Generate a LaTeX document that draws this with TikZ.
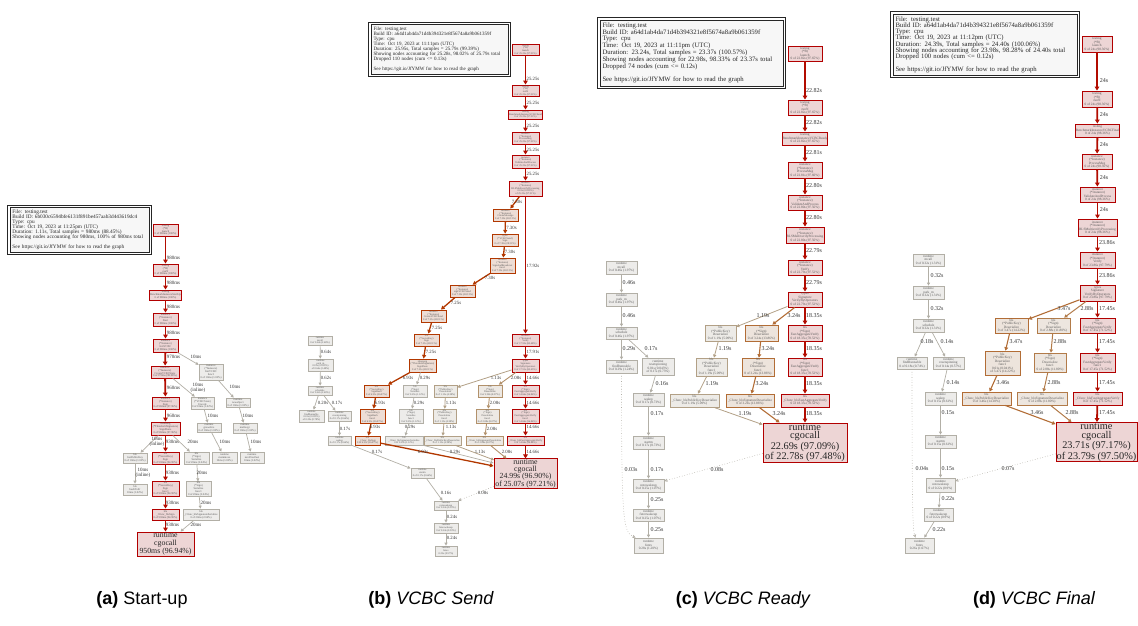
\documentclass[tikz,border=0pt]{standalone}
\usepackage{fontspec}
\setmainfont{Liberation Serif}
\newfontfamily\capfont{Liberation Sans}
\usetikzlibrary{arrows.meta,calc}
\definecolor{redF}{RGB}{237,213,213}
\definecolor{redD}{RGB}{178,0,0}
\definecolor{redE}{RGB}{178,12,0}
\definecolor{orF}{RGB}{237,221,213}
\definecolor{orD}{RGB}{178,56,0}
\definecolor{brF}{RGB}{237,228,220}
\definecolor{brD}{RGB}{178,109,54}
\definecolor{tnF}{RGB}{237,230,223}
\definecolor{tnD}{RGB}{178,123,73}
\definecolor{tbF}{RGB}{237,233,228}
\definecolor{tbD}{RGB}{178,145,107}
\definecolor{ltF}{RGB}{237,235,231}
\definecolor{ltD}{RGB}{178,160,134}
\definecolor{grF}{RGB}{237,236,234}
\definecolor{grD}{RGB}{178,175,166}
\definecolor{lgF}{RGB}{247,247,247}
\def\nfnt{\fontsize{3}{3.1}\selectfont}
\def\lfnt{\fontsize{5}{5}\selectfont}
\def\legfnt{\fontsize{5}{5}\selectfont}
\tikzset{
 box/.style={draw, rectangle, inner sep=0.2pt, align=center, font=\nfnt, text=black!65},
 nR/.style={box, fill=redF, draw=redD, line width=0.9pt},
 nO/.style={box, fill=orF, draw=orD, line width=0.85pt},
 nB/.style={box, fill=brF, draw=brD, line width=0.8pt},
 nT/.style={box, fill=tnF, draw=tnD, line width=0.75pt},
 nTb/.style={box, fill=tbF, draw=tbD, line width=0.75pt},
 nL/.style={box, fill=ltF, draw=ltD, line width=0.7pt},
 nG/.style={box, fill=grF, draw=grD, line width=0.7pt},
 lbl/.style={font=\lfnt, inner sep=0pt, align=center, text=black!80},
 eR/.style={draw=redE, line width=1.8pt, -{Triangle[length=4pt,width=4.6pt]}},
 eO/.style={draw=orD, line width=1.3pt, -{Triangle[length=3.6pt,width=4pt]}},
 eB/.style={draw=brD, line width=1.1pt, -{Triangle[length=3.4pt,width=3.8pt]}},
 eT/.style={draw=tnD, line width=1pt, -{Triangle[length=3.2pt,width=3.5pt]}},
 eTb/.style={draw=tbD, line width=0.9pt, -{Triangle[length=3.2pt,width=3.4pt]}},
 eL/.style={draw=ltD, line width=0.8pt, -{Triangle[length=3pt,width=3.2pt]}},
 eG/.style={draw=grD, line width=0.7pt, -{Triangle[length=3pt,width=3pt]}},
 eD/.style={draw=grD, line width=0.6pt, dotted, -{Triangle[open,length=3pt,width=3pt]}},
 legend/.style={draw=black!85, line width=0.6pt, fill=lgF, align=left, inner sep=2.5pt, font=\legfnt, text=black!85},
 captxt/.style={font=\capfont\fontsize{18}{20}\selectfont, inner sep=0pt},
}
\newcommand\nd[6]{\node[#1,minimum width=#4pt,minimum height=#5pt] (#2) at (#3) {#6};}
\newcommand\ed[5]{\draw[#1] (#2) -- (#3) node[lbl] at (#4) {#5};}
\newcommand\legbox[1]{\draw[line width=1.3pt, draw=black!85] ($(#1.north west)+(-2,-2)$) rectangle ($(#1.south east)+(2,2)$);}
\begin{document}
\begin{tikzpicture}[x=1pt,y=-1pt]
\useasboundingbox (0,0) rectangle (1138,626);

% ================= (a) =================
\begin{scope}
\def\nfnt{\fontsize{2.8}{2.9}\selectfont}
\def\lfnt{\fontsize{5}{5}\selectfont}
\def\legfnt{\fontsize{5.3}{5}\selectfont}
\node[legend, minimum width=139pt, minimum height=42pt, text width=134pt] (La) at (79.5,230) {File: testing.test\\Build ID: 6b030c6594bfe6131f891be457aab3d443619dc4\\Type: cpu\\Time: Oct 19, 2023 at 11:25pm (UTC)\\Duration: 1.11s, Total samples = 980ms (88.45\%)\\Showing nodes accounting for 980ms, 100\% of 980ms total\\[5pt]See https://git.io/JfYMW for how to read the graph};
\legbox{La}
\nd{nR}{a1}{165.5,230}{25}{12}{testing\\(*B)\\launch\\0 of 980ms (100\%)}
\nd{nR}{a2}{165.5,270}{25}{12}{testing\\(*B)\\runN\\0 of 980ms (100\%)}
\nd{nR}{a3}{165.5,295}{27}{10}{testing\\BenchmarkInstanceStartUp\\0 of 980ms (100\%)}
\nd{nR}{a4}{165.5,319.5}{25}{13}{instance\\(*Instance)\\Start\\0 of 980ms (100\%)}
\nd{nR}{a5}{165.5,345.5}{25}{13}{instance\\(*Instance)\\InitVCBC\\0 of 980ms (100\%)}
\nd{nR}{a6}{165,372}{28}{12}{instance\\(*Instance)\\CreateVCBCState\\0 of 970ms (98.98\%)}
\nd{nG}{a7}{211,372}{24}{16}{instance\\(*Instance)\\InitVCBC\\func1\\0 of 10ms (1.02\%)}
\nd{nR}{a8}{165.5,403}{27}{12}{instance\\(*Instance)\\Sign\\0 of 960ms (97.96\%)}
\nd{nG}{a9}{202.5,403}{23}{12}{instance\\(*VCBCState)\\Encode\\0 of 10ms (1.02\%)}
\nd{nG}{a10}{238,402.5}{24}{9}{runtime\\newobject\\0 of 10ms (1.02\%)}
\nd{nR}{a11}{165.5,428.5}{29}{13}{tsharesig\\(*ThresholdSignature)\\SignShare\\0 of 960ms (97.96\%)}
\nd{nG}{a12}{209,427.5}{24}{9}{runtime\\growslice\\0 of 10ms (1.02\%)}
\nd{nG}{a13}{245,428}{24}{10}{runtime\\mallocgc\\0 of 10ms (1.02\%)}
\nd{nG}{a14}{135,458}{24}{10}{bls\\GetPublicKey\\0 of 10ms (1.02\%)}
\nd{nR}{a15}{165.5,458}{27}{12}{bls\\(*SecretKey)\\Sign\\0 of 930ms (94.90\%)}
\nd{nG}{a16}{196.5,458}{25}{12}{bls\\(*Sign)\\Serialize\\0 of 20ms (2.04\%)}
\nd{nG}{a17}{224.5,457.5}{25}{11}{runtime\\memmove\\10ms (1.02\%)}
\nd{nG}{a18}{252,457.5}{24}{11}{runtime\\nextFreeFast\\10ms (1.02\%)}
\nd{nG}{a19}{135,489.5}{24}{11}{bls\\hashToFr\\10ms (1.02\%)}
\nd{nR}{a20}{165.5,488.5}{27}{15}{bls\\(*SecretKey)\\Sign\\func1\\0 of 930ms (94.90\%)}
\nd{nG}{a21}{198.5,489}{25}{14}{bls\\(*Sign)\\Serialize\\func1\\0 of 20ms (2.04\%)}
\nd{nR}{a22}{165.5,514.5}{27}{11}{bls\\\_Cfunc\_blsSign\\0 of 930ms (94.90\%)}
\nd{nG}{a23}{201,514.5}{36}{11}{bls\\\_Cfunc\_blsSignatureSerialize\\0 of 20ms (2.04\%)}
\node[nR, minimum width=57pt, minimum height=24pt, text=black!85, font=\fontsize{7.8}{8}\selectfont] (a24) at (165.5,544) {runtime\\cgocall\\950ms (96.94\%)};
\ed{eR}{a1}{a2}{173.5,258}{980ms}
\ed{eR}{a2}{a3}{173.5,283}{980ms}
\ed{eR}{a3}{a4}{173.5,307}{980ms}
\ed{eR}{a4}{a5}{173.5,333}{980ms}
\ed{eR}{a5}{a6}{173.5,357}{970ms}
\ed{eG}{a5}{a7}{196,357}{10ms}
\ed{eR}{a6}{a8}{173.5,388}{960ms}
\ed{eG}{a6}{a9}{198,388}{10ms\\(inline)}
\ed{eG}{a7}{a10}{235,387}{10ms}
\ed{eR}{a8}{a11}{173.5,416}{960ms}
\ed{eG}{a9}{a12}{213,416}{10ms}
\ed{eG}{a10}{a13}{248,416}{10ms}
\ed{eG}{a11}{a14}{157,442}{10ms\\(inline)}
\ed{eR}{a11}{a15}{172.5,442}{930ms}
\ed{eG}{a11}{a16}{193,442}{20ms}
\ed{eG}{a12}{a17}{225,442}{10ms}
\ed{eG}{a13}{a18}{256,442}{10ms}
\ed{eG}{a14}{a19}{143,473}{10ms\\(inline)}
\ed{eR}{a15}{a20}{172.5,473}{930ms}
\ed{eG}{a16}{a21}{202,473}{20ms}
\ed{eR}{a20}{a22}{172.5,503}{930ms}
\ed{eG}{a21}{a23}{206,503}{20ms}
\ed{eR}{a22}{a24}{172.5,525}{930ms}
\ed{eG}{a23}{a24}{196,525}{20ms}
\end{scope}

% ================= (b) =================
\begin{scope}
\def\nfnt{\fontsize{2.6}{2.7}\selectfont}
\def\lfnt{\fontsize{4.8}{4.8}\selectfont}
\def\legfnt{\fontsize{5}{5}\selectfont}
\node[legend, minimum width=137pt, minimum height=45pt, text width=132pt] (Lb) at (439.5,49.5) {File: testing.test\\Build ID: a64d1ab4da71d4b394321e8f5674a8a9b061359f\\Type: cpu\\Time: Oct 19, 2023 at 11:11pm (UTC)\\Duration: 25.95s, Total samples = 25.79s (99.39\%)\\Showing nodes accounting for 25.28s, 98.02\% of 25.79s total\\Dropped 110 nodes (cum <= 0.13s)\\[5pt]See https://git.io/JfYMW for how to read the graph};
\legbox{Lb}
\nd{nR}{b1}{525.5,49.5}{27}{11}{testing\\(*B)\\launch\\0 of 25.25s (97.91\%)}
\nd{nR}{b2}{525.5,90.5}{27}{11}{testing\\(*B)\\runN\\0 of 25.25s (97.91\%)}
\nd{nR}{b3}{525.5,114.5}{33}{9}{testing\\BenchmarkInstanceVCBCSend\\0 of 25.25s (97.91\%)}
\nd{nR}{b4}{525.5,138}{27}{12}{instance\\(*Instance)\\ProcessMsg\\0 of 25.25s (97.91\%)}
\nd{nR}{b5}{525.5,161.5}{27}{13}{instance\\(*Instance)\\ValidateAndProcess\\0 of 25.25s (97.91\%)}
\nd{nR}{b6}{525.5,188.5}{33}{15}{instance\\(*Instance)\\BLSMultiverifyProcessing\\0.01s (0.039\%)\\of 25.25s (97.91\%)}
\nd{nO}{b7}{505.5,215}{25}{12}{instance\\(*Instance)\\CreateMessage\\0 of 7.30s (28.31\%)}
\nd{nO}{b8}{505,240}{26}{12}{types\\(*VCBCSend)\\Sign\\0 of 7.30s (28.31\%)}
\nd{nO}{b9}{502.5,265.5}{25}{15}{instance\\(*Instance)\\SignAndBroadcast\\func1\\0 of 7.30s (28.31\%)}
\nd{nO}{b10}{462.5,291}{25}{12}{instance\\(*Instance)\\signVCBCSend\\0 of 7.30s (28.31\%)}
\nd{nO}{b11}{433.5,316}{25}{12}{instance\\(*Instance)\\CreateVCBCSend\\0 of 7.25s (28.11\%)}
\nd{nO}{b12}{426.5,340}{25}{12}{bls\\(*SecretKey)\\Sign\\0 of 7.25s (28.11\%)}
\nd{nO}{b13}{422.5,365.5}{27}{13}{tsharesig\\(*ThresholdSignature)\\SignShare\\0 of 7.25s (28.11\%)}
\nd{nR}{b14}{525.5,340}{27}{12}{instance\\(*Instance)\\Verify\\0 of 17.92s (69.48\%)}
\nd{nR}{b15}{525.5,365.5}{27}{13}{types\\Signature\\VerifyByOperators\\0 of 17.91s (69.45\%)}
\nd{nO}{b16}{376.5,391}{25}{12}{bls\\(*SecretKey)\\SignHash\\0 of 6.93s (26.87\%)}
\nd{nG}{b17}{415,391}{24}{12}{bls\\(*Sign)\\Serialize\\0 of 0.29s (1.12\%)}
\nd{nL}{b18}{445.5,391}{23}{12}{bls\\(*PublicKey)\\Deserialize\\0 of 1.13s (4.38\%)}
\nd{nTb}{b19}{490,391}{24}{12}{bls\\(*Sign)\\Deserialize\\0 of 2.08s (8.07\%)}
\nd{nR}{b20}{525.5,391}{27}{12}{bls\\(*Sign)\\FastAggregateVerify\\0 of 14.66s (56.84\%)}
\nd{nO}{b21}{372.5,416}{25}{14}{bls\\(*SecretKey)\\SignHash\\func1\\0 of 6.93s (26.87\%)}
\nd{nG}{b22}{411,416}{24}{14}{bls\\(*Sign)\\Serialize\\func1\\0 of 0.29s (1.12\%)}
\nd{nL}{b23}{444.5,416}{23}{14}{bls\\(*PublicKey)\\Deserialize\\func1\\0 of 1.13s (4.38\%)}
\nd{nTb}{b24}{487.5,416}{23}{14}{bls\\(*Sign)\\Deserialize\\func1\\0 of 2.08s (8.07\%)}
\nd{nR}{b25}{525.5,416}{27}{14}{bls\\(*Sign)\\FastAggregateVerify\\func1\\0 of 14.66s (56.84\%)}
\nd{nO}{b26}{367.5,440.5}{25}{9}{bls\\\_Cfunc\_blsSign\\0 of 6.93s (26.87\%)}
\nd{nG}{b27}{404,440.5}{38}{9}{bls\\\_Cfunc\_blsSignatureSerialize\\0 of 0.29s (1.12\%)}
\nd{nL}{b28}{442.5,440.5}{37}{9}{bls\\\_Cfunc\_blsPublicKeyDeserialize\\0 of 1.13s (4.38\%)}
\nd{nTb}{b29}{484.5,440.5}{37}{9}{bls\\\_Cfunc\_blsSignatureDeserialize\\0 of 2.08s (8.07\%)}
\nd{nR}{b30}{525.5,440.5}{37}{9}{bls\\\_Cfunc\_blsFastAggregateVerify\\0 of 14.66s (56.84\%)}
\node[nR, minimum width=63pt, minimum height=29pt, text=black!85, font=\fontsize{7.8}{7.3}\selectfont] (b31) at (525.5,473.5) {runtime\\cgocall\\24.99s (96.90\%)\\of 25.07s (97.21\%)};
\nd{nG}{b32}{320,340.5}{24}{9}{runtime\\mcall\\0 of 0.64s (2.48\%)}
\nd{nG}{b33}{320.5,365}{25}{12}{runtime\\park\_m\\0.01s (0.039\%)\\of 0.64s (2.48\%)}
\nd{nG}{b34}{320,390.5}{24}{9}{runtime\\schedule\\0 of 0.62s (2.40\%)}
\nd{nG}{b35}{311.5,416}{25}{12}{runtime\\findRunnable\\0.01s (0.039\%)\\of 0.20s (0.78\%)}
\nd{nG}{b36}{339.5,416}{23}{10}{runtime\\resetspinning\\0 of 0.17s (0.66\%)}
\nd{nG}{b37}{339.5,440.5}{23}{9}{runtime\\wakep\\0 of 0.17s (0.66\%)}
\nd{nG}{b38}{422.5,473}{23}{10}{runtime\\startm\\0 of 0.17s (0.66\%)}
\nd{nG}{b39}{446,505.5}{24}{9}{runtime\\notewakeup\\0 of 0.24s (0.93\%)}
\nd{nG}{b40}{446,528}{24}{10}{runtime\\futexwakeup\\0 of 0.24s (0.93\%)}
\nd{nG}{b41}{446,551}{22}{10}{runtime\\futex\\0.25s (0.97\%)}
\ed{eR}{b1}{b2}{533,79}{25.25s}
\ed{eR}{b2}{b3}{533,103}{25.25s}
\ed{eR}{b3}{b4}{533,126}{25.25s}
\ed{eR}{b4}{b5}{533,150}{25.25s}
\ed{eR}{b5}{b6}{533,174}{25.25s}
\ed{eO}{b6}{b7}{517,202}{7.30s}
\ed{eO}{b7}{b8}{511.5,228}{7.30s}
\ed{eO}{b8}{b9}{510,252}{7.30s}
\ed{eO}{b9}{b10}{490,278}{7.30s}
\ed{eO}{b10}{b11}{456,303}{7.25s}
\ed{eO}{b11}{b12}{437,328}{7.25s}
\ed{eO}{b12}{b13}{431,352}{7.25s}
\ed{eR}{b6}{b14}{533,266}{17.92s}
\ed{eR}{b14}{b15}{533,352}{17.91s}
\ed{eO}{b13}{b16}{408,378}{6.93s}
\ed{eG}{b13}{b17}{425,378}{0.29s}
\ed{eL}{b15}{b18}{496,378}{1.13s}
\ed{eTb}{b15}{b19}{516,378}{2.08s}
\ed{eR}{b15}{b20}{533,378}{14.66s}
\ed{eO}{b16}{b21}{380,403}{6.93s}
\ed{eG}{b17}{b22}{419,403}{0.29s}
\ed{eL}{b18}{b23}{451,403}{1.13s}
\ed{eTb}{b19}{b24}{495,403}{2.08s}
\ed{eR}{b20}{b25}{533,403}{14.66s}
\ed{eO}{b21}{b26}{375,427}{6.93s}
\ed{eG}{b22}{b27}{410,427}{0.29s}
\ed{eL}{b23}{b28}{451,427}{1.13s}
\ed{eTb}{b24}{b29}{492,429}{2.08s}
\ed{eR}{b25}{b30}{533,427}{14.66s}
\ed{eO}{b26}{$(b31.north west)+(0,7.5)$}{423,452}{6.93s}
\ed{eG}{b27}{$(b31.north west)+(0,4.5)$}{455,452}{0.29s}
\ed{eL}{b28}{$(b31.north west)+(0.5,1.5)$}{480,452}{1.13s}
\ed{eTb}{b29}{$(b31.north west)+(13,0)$}{507,452}{2.08s}
\ed{eR}{b30}{b31}{533,452}{14.66s}
\ed{eG}{b32}{b33}{326,352}{0.64s}
\ed{eG}{b33}{b34}{326,378}{0.62s}
\ed{eG}{b34}{b35}{323,403}{0.20s}
\ed{eG}{b34}{b36}{337,403}{0.17s}
\ed{eG}{b36}{b37}{345,429}{0.17s}
\ed{eG}{b37}{b38}{377,452}{0.17s}
\ed{eG}{b38}{b39}{446,493}{0.16s}
\ed{eD}{$(b31.south west)+(0,-2)$}{b39}{483,493}{0.08s}
\ed{eG}{b39}{b40}{452,517}{0.24s}
\ed{eG}{b40}{b41}{452,538}{0.24s}
\end{scope}

% ================= (c) =================
\begin{scope}
\def\nfnt{\fontsize{3.4}{3.5}\selectfont}
\def\lfnt{\fontsize{6}{6}\selectfont}
\def\legfnt{\fontsize{6.7}{6}\selectfont}
\node[legend, minimum width=183pt, minimum height=60pt, text width=178pt] (Lc) at (691.5,53) {File: testing.test\\Build ID: a64d1ab4da71d4b394321e8f5674a8a9b061359f\\Type: cpu\\Time: Oct 19, 2023 at 11:11pm (UTC)\\Duration: 23.24s, Total samples = 23.37s (100.57\%)\\Showing nodes accounting for 22.98s, 98.33\% of 23.37s total\\Dropped 74 nodes (cum <= 0.12s)\\[6pt]See https://git.io/JfYMW for how to read the graph};
\legbox{Lc}
\nd{nR}{c1}{805,53.5}{34}{15}{testing\\(*B)\\launch\\0 of 22.82s (97.65\%)}
\nd{nR}{c2}{805,107.5}{34}{15}{testing\\(*B)\\runN\\0 of 22.82s (97.65\%)}
\nd{nR}{c3}{805,138.5}{44}{13}{testing\\BenchmarkInstanceVCBCReady\\0 of 22.82s (97.65\%)}
\nd{nR}{c4}{805,170}{34}{16}{instance\\(*Instance)\\ProcessMsg\\0 of 22.81s (97.60\%)}
\nd{nR}{c5}{805,202.5}{34}{15}{instance\\(*Instance)\\ValidateAndProcess\\0 of 22.80s (97.56\%)}
\nd{nR}{c6}{805,235}{38}{16}{instance\\(*Instance)\\BLSMultiverifyProcessing\\0 of 22.80s (97.56\%)}
\nd{nR}{c7}{805,267.5}{34}{15}{instance\\(*Instance)\\Verify\\0 of 22.79s (97.52\%)}
\nd{nR}{c8}{805,299.5}{34}{15}{types\\Signature\\VerifyByOperators\\0 of 22.79s (97.52\%)}
\nd{nL}{c9}{720.5,333}{31}{16}{bls\\(*PublicKey)\\Deserialize\\0 of 1.19s (5.09\%)}
\nd{nB}{c10}{761.5,333}{33}{16}{bls\\(*Sign)\\Deserialize\\0 of 3.24s (13.86\%)}
\nd{nR}{c11}{805,333}{34}{16}{bls\\(*Sign)\\FastAggregateVerify\\0 of 18.35s (78.52\%)}
\nd{nL}{c12}{711.5,367}{31}{18}{bls\\(*PublicKey)\\Deserialize\\func1\\0 of 1.19s (5.09\%)}
\nd{nB}{c13}{758,367}{32}{18}{bls\\(*Sign)\\Deserialize\\func1\\0 of 3.24s (13.86\%)}
\nd{nR}{c14}{805,367}{34}{18}{bls\\(*Sign)\\FastAggregateVerify\\func1\\0 of 18.35s (78.52\%)}
\nd{nL}{c15}{694.5,400.5}{49}{13}{bls\\\_Cfunc\_blsPublicKeyDeserialize\\0 of 1.19s (5.09\%)}
\nd{nB}{c16}{750,400.5}{48}{13}{bls\\\_Cfunc\_blsSignatureDeserialize\\0 of 3.24s (13.86\%)}
\nd{nR}{c17}{805,400.5}{48}{13}{bls\\\_Cfunc\_blsFastAggregateVerify\\0 of 18.35s (78.52\%)}
\node[nR, minimum width=84pt, minimum height=39pt, text=black!85, font=\fontsize{10.3}{8.7}\selectfont] (c18) at (805,442.5) {runtime\\cgocall\\22.69s (97.09\%)\\of 22.78s (97.48\%)};
\nd{nG}{c19}{621.5,267.5}{31}{13}{runtime\\mcall\\0 of 0.46s (1.97\%)}
\nd{nG}{c20}{621.5,299.5}{31}{13}{runtime\\park\_m\\0 of 0.46s (1.97\%)}
\nd{nG}{c21}{621.5,333}{31}{12}{runtime\\schedule\\0 of 0.46s (1.97\%)}
\nd{nG}{c22}{621.5,366.5}{31}{13}{runtime\\findRunnable\\0 of 0.29s (1.24\%)}
\nd{nG}{c23}{658,366.5}{32}{17}{runtime\\resetspinning\\0.01s (0.043\%)\\of 0.17s (0.73\%)}
\nd{nG}{c24}{648.5,399.5}{31}{13}{runtime\\wakep\\0 of 0.17s (0.73\%)}
\nd{nG}{c25}{648.5,442.5}{31}{13}{runtime\\startm\\0 of 0.17s (0.73\%)}
\nd{nG}{c26}{648.5,485.5}{31}{13}{runtime\\notewakeup\\0 of 0.25s (1.07\%)}
\nd{nG}{c27}{648.5,515}{31}{12}{runtime\\futexwakeup\\0 of 0.25s (1.07\%)}
\nd{nG}{c28}{648.5,545.5}{29}{15}{runtime\\futex\\0.28s (1.20\%)}
\ed{eR}{c1}{c2}{814,91}{22.82s}
\ed{eR}{c2}{c3}{814,123}{22.82s}
\ed{eR}{c3}{c4}{814,153}{22.81s}
\ed{eR}{c4}{c5}{814,186}{22.80s}
\ed{eR}{c5}{c6}{814,218}{22.80s}
\ed{eR}{c6}{c7}{814,251}{22.79s}
\ed{eR}{c7}{c8}{814,283}{22.79s}
\ed{eL}{c8}{c9}{763,316}{1.19s}
\ed{eB}{c8}{c10}{794,316}{3.24s}
\ed{eR}{c8}{c11}{814,316}{18.35s}
\ed{eL}{c9}{c12}{725,349}{1.19s}
\ed{eB}{c10}{c13}{768,349}{3.24s}
\ed{eR}{c11}{c14}{814,349}{18.35s}
\ed{eL}{c12}{c15}{712,384}{1.19s}
\ed{eB}{c13}{c16}{762,384}{3.24s}
\ed{eR}{c14}{c17}{814,384}{18.35s}
\ed{eL}{c15}{$(c18.north west)+(0,2)$}{745,414}{1.19s}
\ed{eB}{c16}{$(c18.north west)+(17,0)$}{779,414}{3.24s}
\ed{eR}{c17}{c18}{814,414}{18.35s}
\ed{eG}{c19}{c20}{629,283}{0.46s}
\ed{eG}{c20}{c21}{629,316}{0.46s}
\ed{eG}{c21}{c22}{629,349}{0.29s}
\ed{eG}{c21}{c23}{651,349}{0.17s}
\ed{eG}{c23}{c24}{662,384}{0.16s}
\ed{eG}{c24}{c25}{657,414}{0.17s}
\ed{eG}{c25}{c26}{657,470}{0.17s}
\ed{eD}{$(c18.south west)+(0,-9)$}{c26}{717,470}{0.08s}
\draw[eD] (c22.south) .. controls (621.5,520) and (623,532) .. ($(c28.north west)+(2,0)$) node[lbl] at (631,470) {0.03s};
\ed{eG}{c26}{c27}{657,500}{0.25s}
\ed{eG}{c27}{c28}{657,530}{0.25s}
\end{scope}

% ================= (d) =================
\begin{scope}
\def\nfnt{\fontsize{3.4}{3.5}\selectfont}
\def\lfnt{\fontsize{6}{6}\selectfont}
\def\legfnt{\fontsize{6.7}{6.3}\selectfont}
\node[legend, minimum width=184pt, minimum height=61pt, text width=179pt] (Ld) at (985,44.5) {File: testing.test\\Build ID: a64d1ab4da71d4b394321e8f5674a8a9b061359f\\Type: cpu\\Time: Oct 19, 2023 at 11:12pm (UTC)\\Duration: 24.39s, Total samples = 24.40s (100.06\%)\\Showing nodes accounting for 23.98s, 98.28\% of 24.40s total\\Dropped 100 nodes (cum <= 0.12s)\\[6pt]See https://git.io/JfYMW for how to read the graph};
\legbox{Ld}
\nd{nR}{d1}{1097,44}{30}{16}{testing\\(*B)\\launch\\0 of 24s (98.36\%)}
\nd{nR}{d2}{1097,99}{30}{16}{testing\\(*B)\\runN\\0 of 24s (98.36\%)}
\nd{nR}{d3}{1097.5,130.5}{43}{13}{testing\\BenchmarkInstanceVCBCFinal\\0 of 24s (98.36\%)}
\nd{nR}{d4}{1097,161.5}{30}{15}{instance\\(*Instance)\\ProcessMsg\\0 of 24s (98.36\%)}
\nd{nR}{d5}{1097.5,194.5}{35}{15}{instance\\(*Instance)\\ValidateAndProcess\\0 of 24s (98.36\%)}
\nd{nR}{d6}{1097.5,227.5}{39}{17}{instance\\(*Instance)\\BLSMultiverifyProcessing\\0 of 24s (98.36\%)}
\nd{nR}{d7}{1097.5,260}{35}{16}{instance\\(*Instance)\\Verify\\0 of 23.86s (97.79\%)}
\nd{nR}{d8}{1097.5,293}{35}{16}{types\\Signature\\VerifyByOperators\\0 of 23.86s (97.79\%)}
\nd{nB}{d9}{1011.5,325.5}{33}{15}{bls\\(*PublicKey)\\Deserialize\\0 of 3.47s (14.22\%)}
\nd{nT}{d10}{1053.5,325.5}{33}{15}{bls\\(*Sign)\\Deserialize\\0 of 2.88s (11.80\%)}
\nd{nR}{d11}{1097.5,325.5}{35}{15}{bls\\(*Sign)\\FastAggregateVerify\\0 of 17.45s (71.52\%)}
\nd{nB}{d12}{1002.5,363}{35}{24}{bls\\(*PublicKey)\\Deserialize\\func1\\0.01s (0.041\%)\\of 3.47s (14.22\%)}
\nd{nT}{d13}{1050,362.5}{32}{19}{bls\\(*Sign)\\Deserialize\\func1\\0 of 2.88s (11.80\%)}
\nd{nR}{d14}{1097.5,362.5}{35}{19}{bls\\(*Sign)\\FastAggregateVerify\\func1\\0 of 17.45s (71.52\%)}
\nd{nB}{d15}{986.5,398.5}{49}{13}{bls\\\_Cfunc\_blsPublicKeyDeserialize\\0 of 3.46s (14.18\%)}
\nd{nT}{d16}{1042,398.5}{50}{13}{bls\\\_Cfunc\_blsSignatureDeserialize\\0 of 2.88s (11.80\%)}
\nd{nR}{d17}{1097.5,398.5}{49}{13}{bls\\\_Cfunc\_blsFastAggregateVerify\\0 of 17.45s (71.52\%)}
\node[nR, minimum width=81pt, minimum height=38pt, text=black!85, font=\fontsize{10.3}{8.7}\selectfont] (d18) at (1096.5,442) {runtime\\cgocall\\23.71s (97.17\%)\\of 23.79s (97.50\%)};
\nd{nG}{d19}{928.5,260}{31}{12}{runtime\\mcall\\0 of 0.32s (1.31\%)}
\nd{nG}{d20}{928.5,292.5}{31}{13}{runtime\\park\_m\\0 of 0.32s (1.31\%)}
\nd{nG}{d21}{928.5,325.5}{31}{13}{runtime\\schedule\\0 of 0.32s (1.31\%)}
\nd{nG}{d22}{912,363}{30}{12}{runtime\\findRunnable\\0 of 0.18s (0.74\%)}
\nd{nG}{d23}{948.5,363}{31}{12}{runtime\\resetspinning\\0 of 0.14s (0.57\%)}
\nd{nG}{d24}{940.5,398.5}{31}{13}{runtime\\wakep\\0 of 0.15s (0.61\%)}
\nd{nG}{d25}{940.5,441.5}{31}{13}{runtime\\startm\\0 of 0.15s (0.61\%)}
\nd{nG}{d26}{940.5,485}{29}{14}{runtime\\notewakeup\\0 of 0.22s (0.9\%)}
\nd{nG}{d27}{938.5,514.5}{29}{13}{runtime\\futexwakeup\\0 of 0.22s (0.9\%)}
\nd{nG}{d28}{919.5,545.5}{29}{15}{runtime\\futex\\0.26s (1.07\%)}
\ed{eR}{d1}{d2}{1104,81}{24s}
\ed{eR}{d2}{d3}{1104,115}{24s}
\ed{eR}{d3}{d4}{1104,145}{24s}
\ed{eR}{d4}{d5}{1104,178}{24s}
\ed{eR}{d5}{d6}{1104,210}{24s}
\ed{eR}{d6}{d7}{1107,243}{23.86s}
\ed{eR}{d7}{d8}{1107,276}{23.86s}
\ed{eB}{d8}{d9}{1064,309}{3.47s}
\ed{eT}{d8}{d10}{1087,309}{2.88s}
\ed{eR}{d8}{d11}{1107,309}{17.45s}
\ed{eB}{d9}{d12}{1016,342}{3.47s}
\ed{eT}{d10}{d13}{1060,342}{2.88s}
\ed{eR}{d11}{d14}{1107,342}{17.45s}
\ed{eB}{d12}{d15}{1003,383}{3.46s}
\ed{eT}{d13}{d16}{1054,383}{2.88s}
\ed{eR}{d14}{d17}{1107,383}{17.45s}
\ed{eB}{d15}{$(d18.north west)+(0,2)$}{1037,413}{3.46s}
\ed{eT}{d16}{$(d18.north west)+(16,0)$}{1072,413}{2.88s}
\ed{eR}{d17}{d18}{1107,413}{17.45s}
\ed{eG}{d19}{d20}{937,276}{0.32s}
\ed{eG}{d20}{d21}{937,309}{0.32s}
\ed{eG}{d21}{d22}{927,342}{0.18s}
\ed{eG}{d21}{d23}{947,342}{0.14s}
\ed{eG}{d23}{d24}{953,383}{0.14s}
\ed{eG}{d24}{d25}{948,413}{0.15s}
\ed{eG}{d25}{d26}{948,469}{0.15s}
\ed{eD}{$(d18.south west)+(0,-8)$}{d26}{1008,469}{0.07s}
\draw[eD] (d22.south) .. controls (912,520) and (913,530) .. ($(d28.north)+(-4,0)$) node[lbl] at (922,469) {0.04s};
\ed{eG}{d26}{d27}{948,499}{0.22s}
\ed{eG}{d27}{d28}{939,530}{0.22s}
\end{scope}

% ================= captions =================
\node[captxt] (capa) at (142,600) {{\bfseries (a)} Start-up};
\node[captxt] (capb) at (431,600) {{\bfseries (b)} \itshape VCBC Send};
\node[captxt] (capc) at (743,600) {{\bfseries (c)} \itshape VCBC Ready};
\node[captxt] (capd) at (1034,600) {{\bfseries (d)} \itshape VCBC Final};
\end{tikzpicture}
\end{document}
